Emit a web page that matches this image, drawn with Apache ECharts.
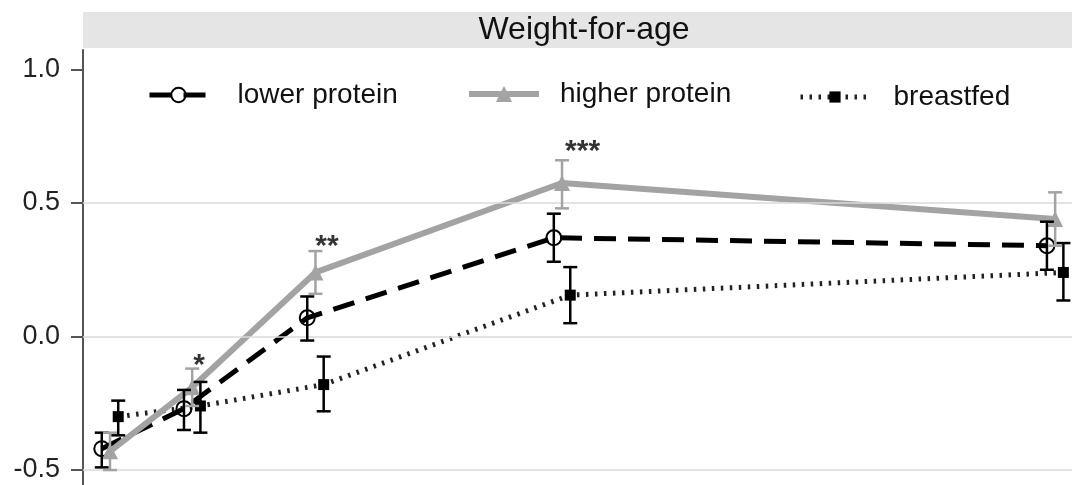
<!DOCTYPE html>
<html><head><meta charset="utf-8">
<script src="https://cdn.jsdelivr.net/npm/echarts@6/dist/echarts.min.js"></script>
<style>html,body{margin:0;padding:0;background:#fff}#c{width:1072px;height:485px}</style>
</head><body><div id="c"></div>
<script>
// ---- data ----
const ages = [1, 3, 6, 12, 24];
const seriesNames = ['lower protein', 'higher protein', 'breastfed'];
const lowerMean = [-0.42, -0.27, 0.07, 0.37, 0.34];
const lowerLo   = [-0.49, -0.35, -0.015, 0.28, 0.25];
const lowerHi   = [-0.36, -0.20, 0.15, 0.46, 0.43];
const higherMean = [-0.43, -0.19, 0.24, 0.575, 0.44];
const higherLo   = [-0.50, -0.26, 0.16, 0.48, 0.34];
const higherHi   = [-0.36, -0.12, 0.32, 0.66, 0.54];
const breastMean = [-0.30, -0.26, -0.18, 0.155, 0.24];
const breastLo   = [-0.37, -0.36, -0.28, 0.05, 0.135];
const breastHi   = [-0.24, -0.17, -0.075, 0.26, 0.35];
const dodge = [-0.2, 0, 0.2];
const yTicks = [-0.5, 0, 0.5, 1.0];
const gridValues = [-0.5, 0, 0.5];
const sigX = [3.17, 6.28, 12.5];
const sigY = [-0.09, 0.355, 0.71];
const sigLabels = ['*', '**', '***'];
const panelTitle = 'Weight-for-age';

// ---- styling ----
const FONT = 'Liberation Sans, Arial, Helvetica, sans-serif';
const BLACK = '#000000';
const GRAY = '#a3a3a3';

function pts(mean, k) { return ages.map((a, i) => [a + dodge[k], mean[i]]); }
function bars(lo, hi, k) { return ages.map((a, i) => [a + dodge[k], lo[i], hi[i]]); }

function errorSeries(data, color) {
  return {
    type: 'custom', z: 6, silent: true,
    data: data,
    encode: { x: 0, y: [1, 2] },
    renderItem: function (params, api) {
      const x = api.value(0);
      const p1 = api.coord([x, api.value(1)]);
      const p2 = api.coord([x, api.value(2)]);
      const hw = 7;
      const st = { stroke: color, lineWidth: 2.5, fill: null };
      return { type: 'group', children: [
        { type: 'line', shape: { x1: p1[0], y1: p1[1], x2: p2[0], y2: p2[1] }, style: st },
        { type: 'line', shape: { x1: p1[0] - hw, y1: p1[1], x2: p1[0] + hw, y2: p1[1] }, style: st },
        { type: 'line', shape: { x1: p2[0] - hw, y1: p2[1], x2: p2[0] + hw, y2: p2[1] }, style: st }
      ]};
    }
  };
}

function legendFor(name, left, itemWidth, itemHeight, padLeft) {
  return {
    data: [name], left: left, top: 90 - itemHeight / 2, padding: 0,
    itemWidth: itemWidth, itemHeight: itemHeight, selectedMode: false,
    lineStyle: { width: 'inherit' },
    textStyle: { fontFamily: FONT, fontSize: 28, color: '#111', padding: [0, 0, 0, padLeft] }
  };
}

const chart = echarts.init(document.getElementById('c'), null, { renderer: 'canvas' });
chart.setOption({
  animation: false,
  backgroundColor: '#ffffff',
  grid: { left: 83, right: 0, top: 50, bottom: 0, containLabel: false },
  xAxis: { type: 'value', min: 0.343, max: 24.41, show: false },
  yAxis: {
    type: 'value', min: -0.556, max: 1.073,
    axisLine: { show: true, lineStyle: { color: '#555', width: 2 } },
    axisTick: { show: true, length: 12, customValues: yTicks, lineStyle: { color: '#555', width: 2 } },
    axisLabel: { customValues: yTicks, margin: 23, fontFamily: FONT, fontSize: 27, color: '#222',
      formatter: v => v.toFixed(1) },
    splitLine: { show: false }
  },
  legend: [
    legendFor(seriesNames[0], 147, 58, 18, 25),
    legendFor(seriesNames[1], 466, 70, 20, 16),
    legendFor(seriesNames[2], 798, 69, 14, 19)
  ],
  graphic: [
    { type: 'rect', shape: { x: 83, y: 12, width: 989, height: 36 }, style: { fill: '#e5e5e5' }, z: 0 },
    { type: 'text', x: 584, y: 30, style: { text: panelTitle, fontFamily: FONT, fontSize: 32, fill: '#111',
      align: 'center', verticalAlign: 'middle' }, z: 1 }
  ],
  series: [
    {
      name: seriesNames[2], type: 'line', z: 2, data: pts(breastMean, 2),
      symbol: 'rect', symbolSize: 11, showAllSymbol: true,
      itemStyle: { color: BLACK },
      lineStyle: { color: '#222', width: 5, type: [2.5, 6.5], cap: 'butt' },
      emphasis: { disabled: true },
      markLine: {
        silent: true, symbol: 'none', label: { show: false },
        lineStyle: { color: '#dadada', width: 1.5, type: 'solid' },
        data: gridValues.map(v => ({ yAxis: v }))
      }
    },
    {
      name: seriesNames[0], type: 'line', z: 3, data: pts(lowerMean, 0),
      symbol: 'circle', symbolSize: 15, showAllSymbol: true,
      itemStyle: { color: 'rgba(255,255,255,0)', borderColor: BLACK, borderWidth: 2 },
      lineStyle: { color: BLACK, width: 5, type: [22, 12] },
      emphasis: { disabled: true }
    },
    {
      name: seriesNames[1], type: 'line', z: 4, data: pts(higherMean, 1),
      symbol: 'triangle', symbolSize: 16, showAllSymbol: true,
      itemStyle: { color: GRAY },
      lineStyle: { color: GRAY, width: 6 },
      emphasis: { disabled: true }
    },
    errorSeries(bars(breastLo, breastHi, 2), BLACK),
    errorSeries(bars(lowerLo, lowerHi, 0), BLACK),
    errorSeries(bars(higherLo, higherHi, 1), GRAY),
    {
      type: 'scatter', z: 7, silent: true, symbolSize: 1,
      itemStyle: { color: 'rgba(0,0,0,0)' },
      data: sigX.map((x, i) => [x, sigY[i], sigLabels[i]]),
      label: { show: true, position: 'inside', offset: [0, 5], formatter: p => p.data[2],
        fontFamily: FONT, fontSize: 30, fontWeight: 'bold', color: '#000' }
    }
  ]
});
</script></body></html>
